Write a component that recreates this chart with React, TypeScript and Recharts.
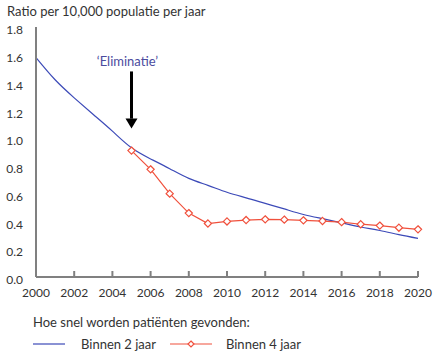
import {
  Line,
  LineChart,
  ReferenceDot,
  ReferenceLine,
  XAxis,
  YAxis,
} from 'recharts';

const years = [
  2000, 2001, 2002, 2003, 2004, 2005, 2006, 2007, 2008, 2009, 2010,
  2011, 2012, 2013, 2014, 2015, 2016, 2017, 2018, 2019, 2020,
];
const binnen2 = [
  1.58, 1.42, 1.29, 1.17, 1.05, 0.93, 0.85, 0.78, 0.71, 0.66, 0.61,
  0.57, 0.53, 0.49, 0.45, 0.42, 0.39, 0.36, 0.335, 0.305, 0.278,
];
const binnen4: (number | null)[] = [
  null, null, null, null, null, 0.91, 0.775, 0.6, 0.46, 0.385, 0.4,
  0.41, 0.415, 0.413, 0.408, 0.403, 0.395, 0.38, 0.37, 0.355, 0.343,
];
const xTicks = [2000, 2002, 2004, 2006, 2008, 2010, 2012, 2014, 2016, 2018, 2020];
const yTicks = [0, 0.2, 0.4, 0.6, 0.8, 1.0, 1.2, 1.4, 1.6, 1.8];

const rows = years.map((year, i) => ({ year, binnen2: binnen2[i], binnen4: binnen4[i] }));

const blue = '#3c4ab8';
const red = '#f0503c';
const axisGrey = '#808080';
const textColor = '#333333';
const font = 'Lato, "Open Sans", sans-serif';

function Diamond({ cx, cy }: { cx?: number; cy?: number }) {
  if (cx == null || cy == null || Number.isNaN(cx) || Number.isNaN(cy)) return null;
  const r = 3.6;
  return (
    <path
      d={`M${cx},${cy - r}L${cx + r},${cy}L${cx},${cy + r}L${cx - r},${cy}Z`}
      fill="#fff"
      stroke={red}
      strokeWidth={1.2}
    />
  );
}

function XTick({ x, y, payload }: { x?: number; y?: number; payload?: { value: number } }) {
  if (x == null || y == null || !payload) return null;
  const axisY = y - 2;
  return (
    <g>
      {payload.value !== 2000 && (
        <line x1={x} x2={x} y1={axisY} y2={axisY - 6} stroke={axisGrey} strokeWidth={2} />
      )}
      <text x={x} y={axisY + 20} textAnchor="middle" fill={textColor} fontSize={12} fontFamily={font}>
        {payload.value}
      </text>
    </g>
  );
}

function ArrowHead({ cx, cy }: { cx?: number; cy?: number }) {
  if (cx == null || cy == null) return null;
  return <path d={`M${cx - 6},${cy - 10}L${cx + 6},${cy - 10}L${cx},${cy}Z`} fill="#000" />;
}

function ElimLabel({ cx, cy }: { cx?: number; cy?: number }) {
  if (cx == null || cy == null) return null;
  return (
    <text x={cx - 4} y={cy} textAnchor="middle" fill="#4b4b9e" fontSize={13} fontFamily={font}>
      ‘Eliminatie’
    </text>
  );
}

function ChartLegend() {
  return (
    <div
      style={{
        position: 'absolute',
        left: 33,
        top: 314,
        fontFamily: font,
        fontSize: 13,
        color: textColor,
      }}
    >
      <div style={{ marginBottom: 6 }}>Hoe snel worden patiënten gevonden:</div>
      <div style={{ display: 'flex', alignItems: 'center' }}>
        <svg width={33} height={10} style={{ marginRight: 15 }}>
          <line x1={0} x2={32} y1={5} y2={5} stroke={blue} strokeWidth={1.2} />
        </svg>
        <span style={{ marginRight: 14 }}>Binnen 2 jaar</span>
        <svg width={42} height={10} style={{ marginRight: 14 }}>
          <line x1={0} x2={42} y1={5} y2={5} stroke={red} strokeWidth={1.2} />
          <path d="M21,2L24,5L21,8L18,5Z" fill="#fff" stroke={red} strokeWidth={1.2} />
        </svg>
        <span>Binnen 4 jaar</span>
      </div>
    </div>
  );
}

export default function App() {
  return (
    <div style={{ position: 'absolute', left: 0, top: 0, width: 436, height: 354, background: '#fff' }}>
      <div
        style={{
          position: 'absolute',
          left: 7,
          top: 3,
          fontFamily: font,
          fontSize: 13,
          color: textColor,
        }}
      >
        Ratio per 10,000 populatie per jaar
      </div>
      <LineChart width={436} height={354} data={rows} margin={{ top: 27, right: 18, left: 0, bottom: 57 }}>
        <XAxis
          type="number"
          dataKey="year"
          domain={[2000, 2020]}
          ticks={xTicks}
          interval={0}
          tickLine={false}
          tickSize={0}
          tickMargin={2}
          height={20}
          axisLine={{ stroke: axisGrey, strokeWidth: 2 }}
          tick={<XTick />}
        />
        <YAxis
          domain={[0, 1.8]}
          ticks={yTicks}
          width={36}
          tickLine={false}
          tickSize={0}
          tickMargin={13}
          axisLine={{ stroke: axisGrey, strokeWidth: 2 }}
          tick={{ fontSize: 12, fill: textColor, fontFamily: font, dy: 3 }}
          tickFormatter={(v: number) => v.toFixed(1)}
        />
        <Line
          type="natural"
          dataKey="binnen2"
          stroke={blue}
          strokeWidth={1.2}
          dot={false}
          activeDot={false}
          isAnimationActive={false}
        />
        <Line
          type="linear"
          dataKey="binnen4"
          stroke={red}
          strokeWidth={1.2}
          dot={<Diamond />}
          activeDot={false}
          connectNulls={false}
          isAnimationActive={false}
        />
        <ReferenceLine
          segment={[
            { x: 2005, y: 1.48 },
            { x: 2005, y: 1.14 },
          ]}
          stroke="#000"
          strokeWidth={3}
        />
        <ReferenceDot x={2005} y={1.07} shape={<ArrowHead />} />
        <ReferenceDot x={2005} y={1.52} shape={<ElimLabel />} />
      </LineChart>
      <ChartLegend />
    </div>
  );
}
